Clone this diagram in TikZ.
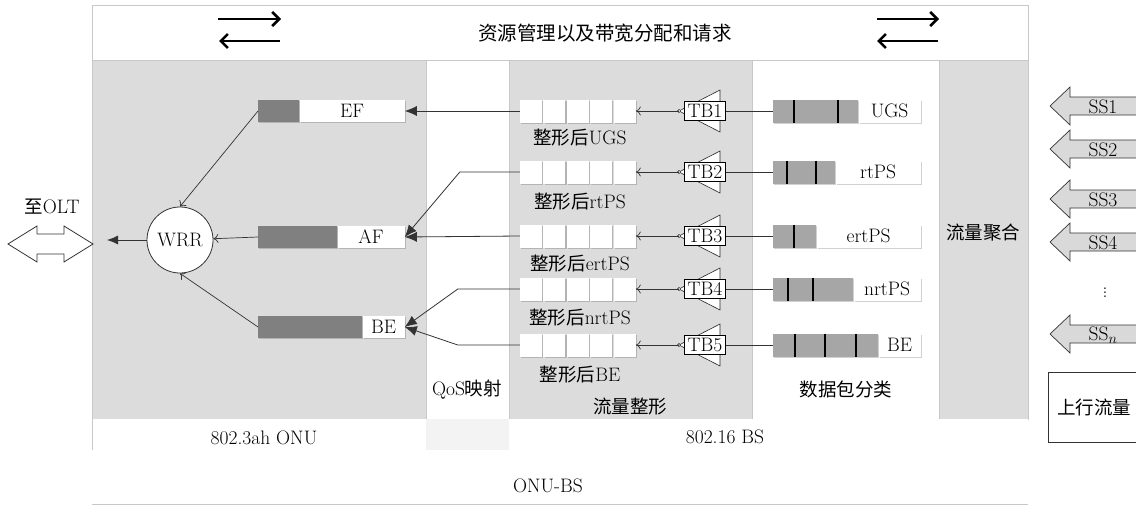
\documentclass[tikz,border=0pt]{standalone}
\usepackage{fontspec}
\newfontfamily\cjk{Noto Sans CJK SC}
\newcommand\zhtxt[1]{{\cjk\fontsize{18.5}{22}\selectfont #1}}
\newcommand\zhbig[1]{{\cjk\fontsize{19.5}{23}\selectfont #1}}
\usetikzlibrary{arrows.meta,shadows}
\definecolor{bg}{RGB}{220,220,220}
\definecolor{qdark}{RGB}{128,128,128}
\definecolor{pk}{RGB}{166,166,166}
\definecolor{edge}{RGB}{200,200,200}
\definecolor{ssfill}{RGB}{217,217,217}
\definecolor{qoscell}{RGB}{243,243,243}
\begin{document}
\begin{tikzpicture}[x=1pt,y=-1pt,
  fnt/.style={font=\fontsize{19.5}{23}\selectfont},
  txt/.style={fnt, inner sep=0pt},
  region/.style={draw=edge, line width=0.8pt},
  shd/.style={drop shadow={shadow xshift=1.2pt, shadow yshift=-1.2pt, opacity=0.18, fill=black}},
  qd/.style={fill=qdark, minimum height=22pt, inner sep=0pt, anchor=west, shd},
  qw/.style={fill=white, minimum height=22pt, inner sep=0pt, anchor=west, fnt, shd},
  cell/.style={fill=white, minimum width=22pt, minimum height=23pt, inner sep=0pt, shd},
  pkg/.style={fill=pk, minimum height=23pt, inner sep=0pt, anchor=west, shd},
  pkw/.style={fill=white, minimum height=23pt, inner sep=0pt, anchor=west, fnt, shd},
  tbbox/.style={draw, line width=1pt, fill=white, minimum width=41pt, minimum height=19pt, inner sep=0pt, fnt},
  tri/.style={draw=black!85, fill=white, line width=0.6pt},
  bigarr/.style={draw=black!80, line width=0.8pt, -{Latex[length=12pt,width=10pt]}},
  smallarr/.style={draw=black!80, line width=0.7pt, -{To[length=5pt,width=9pt]}},
  plainline/.style={draw=black!80, line width=0.8pt},
  ssarrow/.style={fill=ssfill, draw=black!80, line width=0.7pt},
  bandarr/.style={line width=2.6pt, -{Straight Barb[length=7pt,width=14pt]}},
]
\useasboundingbox (0,0) rectangle (1136,506);
\fill[white] (0,0) rectangle (1136,506);

% ---- background regions ----
\draw[region, fill=white] (92,5) rectangle (1028,60);
\draw[region, fill=bg] (92,60) rectangle (426,419);
\draw[region, fill=white] (426,60) rectangle (509,419);
\draw[region, fill=bg] (509,60) rectangle (752,419);
\draw[region, fill=white] (752,60) rectangle (939,419);
\draw[region, fill=bg] (939,60) rectangle (1028,419);
\fill[white] (92,419) rectangle (426,450);
\fill[qoscell] (426,419) rectangle (509,450);
\fill[white] (509,419) rectangle (1028,450);
\draw[edge, line width=0.8pt] (92,419) -- (92,450);
\draw[edge, line width=0.8pt] (92,504) -- (1028,504);

% ---- region labels ----
\node[txt] (title) at (605,33) {\zhbig{资源管理以及带宽分配和请求}};
\node[txt] (qoslbl) at (467,390) {QoS\zhtxt{映射}};
\node[txt] (shapelbl) at (630,407) {\zhtxt{流量整形}};
\node[txt] (classlbl) at (846,389) {\zhtxt{数据包分类}};
\node[txt] (agglbl) at (983,233) {\zhtxt{流量聚合}};
\node[txt] (onulbl) at (264,438) {802.3ah ONU};
\node[txt] (bslbl) at (725,437) {802.16 BS};
\node[txt] (onubslbl) at (548,486) {ONU-BS};

% ---- band arrows ----
\coordinate (la1) at (218,19); \coordinate (la2) at (281,19);
\coordinate (lb1) at (280,41); \coordinate (lb2) at (219,41);
\draw[bandarr] (la1) -- (la2);
\draw[bandarr] (lb1) -- (lb2);
\coordinate (ra1) at (877,19); \coordinate (ra2) at (939,19);
\coordinate (rb1) at (938,41); \coordinate (rb2) at (877,41);
\draw[bandarr] (ra1) -- (ra2);
\draw[bandarr] (rb1) -- (rb2);

% ---- ONU classes ----
\node[qd, minimum width=41pt] (efd) at (258,111) {};
\node[qw, minimum width=105pt] (ef) at (efd.east) {EF};
\node[qd, minimum width=79pt] (afd) at (258,237) {};
\node[qw, minimum width=67pt] (af) at (afd.east) {AF};
\node[qd, minimum width=104pt] (bed) at (258,327) {};
\node[qw, minimum width=42pt] (be) at (bed.east) {BE};

\node[circle, draw=black!80, line width=0.8pt, fill=white, minimum size=66pt, inner sep=0pt, fnt] (wrr) at (180,240) {WRR};
\coordinate (oltend) at (107,240);
\draw[draw=black!80, line width=0.8pt, -{Latex[length=11pt,width=9pt]}] (wrr.west) -- (oltend);
\draw[smallarr] (efd.west) -- (wrr.north);
\draw[smallarr] (afd.west) -- (wrr);
\draw[smallarr] (bed.west) -- (wrr.south);

% ---- to OLT ----
\draw[fill=white, draw=black!80, line width=0.8pt] (8,244) -- (37,226) -- (37,234) -- (64,234) -- (64,226) -- (93,244) -- (64,262) -- (64,254) -- (37,254) -- (37,262) -- cycle;
\node[txt] (oltlbl) at (52,207) {\zhtxt{至}OLT};

% ---- rows: shaping queues, token buckets, packet queues ----
\foreach \r/\y/\gw/\lab/\divs in {1/111/85/UGS/{794,838}, 2/172/62/rtPS/{787,816}, 3/236/43/ertPS/{794}, 4/289/80/nrtPS/{788,813}, 5/345/105/BE/{795,825,856}} {
  \foreach \k in {0,...,4} \node[cell] (q\r\k) at ({531+23.4*\k},\y) {};
  \draw[tri] (679,\y) -- (720,{\y-21}) -- (720,{\y+21}) -- cycle;
  \coordinate (tba\r) at (679,\y);
  \draw[line width=0.5pt, fill=white] (tba\r) circle (1.6);
  \node[tbbox] (tb\r) at (705,\y) {TB\r};
  \node[pkg, minimum width=\gw pt] (pg\r) at (773,\y) {};
  \node[pkw, minimum width={(147-\gw)*1pt}] (pl\r) at (pg\r.east) {\lab};
  \foreach \d in \divs \draw[line width=1.3pt] (\d,{\y-11.5}) -- (\d,{\y+11.5});
  \draw[smallarr] (tba\r) -- (q\r4.east);
  \draw[plainline] (tb\r.east) -- (pg\r.west);
}

\node[txt] (ql1) at (580,138) {\zhtxt{整形后}UGS};
\node[txt] (ql2) at (580,202) {\zhtxt{整形后}rtPS};
\node[txt] (ql3) at (580,264) {\zhtxt{整形后}ertPS};
\node[txt] (ql4) at (580,318) {\zhtxt{整形后}nrtPS};
\node[txt] (ql5) at (580,375) {\zhtxt{整形后}BE};

% ---- QoS mapping connectors ----
\draw[bigarr] (q10.west) -- (ef.east);
\draw[bigarr] (q20.west) -- ++(-60,0) -- (af.east);
\draw[bigarr] (q30.west) -- (af.east);
\draw[bigarr] (q40.west) -- ++(-62,0) -- (be.east);
\draw[bigarr] (q50.west) -- ++(-62,0) -- (be.east);

% ---- subscriber stations ----
\foreach \n/\c/\t in {1/106/SS1, 2/149/SS2, 3/199/SS3, 4/242/SS4, 5/334/SS$_n$} {
  \draw[ssarrow] (1150,{\c-9}) -- (1070,{\c-9}) -- (1070,{\c-19}) -- (1050,\c) -- (1070,{\c+19}) -- (1070,{\c+9}) -- (1150,{\c+9});
  \node[txt] (ss\n) at (1103,{\c+1}) {\t};
}
\node[txt] (ssdots) at (1105,290) {$\vdots$};
\node[draw=black!80, line width=0.8pt, minimum width=92pt, minimum height=70pt, inner sep=0pt, anchor=west, fnt] (upbox) at (1048,407) {\zhtxt{上行流量}};
\end{tikzpicture}
\end{document}
